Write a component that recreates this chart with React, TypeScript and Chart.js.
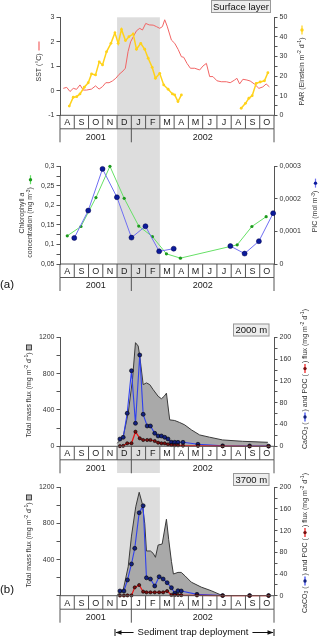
import React, { useEffect, useRef } from 'react';
import { Chart, registerables } from 'chart.js';
Chart.register(...registerables);

// ---------- shared axis categories ----------
const MONTHS = ['A', 'S', 'O', 'N', 'D', 'J', 'F', 'M', 'A', 'M', 'J', 'J', 'A', 'S', 'O'];
const YEARS = ['2001', '2002'];
const YEAR_SPLIT = 5; // month index where 2002 starts
const BAND_START = 4; // December
const BAND_END = 7; // end of February

// ---------- panel 1: surface layer ----------
const sstMonth = [0.23, 0.47, 0.7, 0.93, 1.16, 1.4, 1.63, 1.86, 2.21, 2.49, 2.74, 2.98, 3.21, 3.44, 3.67, 3.91, 4.14, 4.42, 4.58, 4.77, 4.95, 5.13, 5.36, 5.59, 5.78, 6.01, 6.25, 6.53, 6.76, 6.99, 7.18, 7.34, 7.51, 7.81, 8.04, 8.28, 8.51, 8.67, 8.9, 9.14, 9.44, 9.79, 10.02, 10.26, 10.49, 10.72, 11.0, 11.3, 11.66, 11.93, 12.24, 12.4, 12.59, 12.82, 13.1, 13.33, 13.64, 13.94, 14.22, 14.45, 14.68];
const sstValue = [0.1, 0.14, -0.03, 0.1, 0.06, 0.24, 0.03, 0.03, 0.07, 0.2, 0.07, 0.17, 0.33, 0.33, 0.4, 0.51, 0.67, 0.81, 0.92, 1.6, 2.0, 2.2, 2.45, 2.55, 2.48, 2.75, 2.69, 2.68, 2.62, 2.55, 2.62, 2.9, 2.64, 2.07, 1.94, 1.69, 1.39, 1.37, 1.12, 0.92, 0.92, 0.85, 1.01, 1.12, 0.58, 0.58, 0.41, 0.37, 0.37, 0.33, 0.44, 0.51, 0.28, 0.47, 0.44, 0.4, 0.27, 0.1, 0.16, 0.28, 0.16];
const parMonth = [0.65, 0.93, 1.17, 1.4, 1.7, 1.98, 2.21, 2.49, 2.75, 2.98, 3.26, 3.57, 3.85, 4.08, 4.31, 4.59, 4.83, 5.13, 5.36, 5.66, 5.94, 6.18, 6.46, 6.69, 6.99, 7.27, 7.58, 7.88, 8.04, 8.27, 8.51, 10.5, 12.7, 13.0, 13.24, 13.47, 13.75, 14.03, 14.33, 14.57];
const parValue = [4.7, 9.2, 9.5, 10.9, 14.3, 16.6, 21.1, 20.6, 27.3, 25.7, 32.4, 36.7, 42.1, 36.7, 43.8, 38.1, 40.1, 41.5, 33.7, 36.7, 33.7, 29.1, 24.5, 18.9, 21.4, 15.5, 13.3, 10.9, 10.4, 7.0, 10.4, null, 3.6, 6.1, 8.7, 10.0, 16.3, 17.0, 17.6, 21.7];

// ---------- panel 2: chlorophyll a and PIC ----------
const chlMonth = [0.51, 1.47, 2.52, 3.5, 4.5, 5.52, 6.48, 7.46, 8.44, 12.42, 13.45, 14.45];
const chlValue = [0.122, 0.146, 0.22, 0.3, 0.218, 0.147, 0.12, 0.076, 0.065, 0.099, 0.146, 0.171];
const picMonth = [1.0, 1.98, 2.98, 3.99, 5.01, 5.99, 6.95, 7.97, 10.0, 11.94, 12.94, 13.94, 14.94];
const picValue = [0.00008, 0.000164, 0.000292, 0.000205, 0.000081, 0.000116, 0.000039, 0.000047, null, 0.000055, 0.000032, 0.00007, 0.000156];

// ---------- panel 3: 2000 m trap ----------
const mass2000Month = [4.01, 4.43, 4.78, 5.08, 5.29, 5.48, 5.59, 5.83, 6.06, 6.29, 6.53, 6.88, 7.11, 7.3, 7.46, 7.69, 8.04, 8.39, 8.74, 9.21, 9.79, 10.49, 11.4, 12.8, 14.57];
const mass2000Value = [33, 106, 366, 735, 1141, 1104, 993, 679, 698, 679, 624, 550, 524, 550, 585, 291, 284, 262, 236, 181, 125, 100, 70, 55, 44];
const trap2000Month = [4.2, 4.43, 4.71, 5.01, 5.29, 5.59, 5.83, 6.11, 6.34, 6.64, 6.88, 7.11, 7.34, 7.57, 7.81, 8.04, 8.27, 8.62, 9.67, 11.4, 13.29, 14.62];
const caco32000 = [13.4, 16.5, 60.6, 138.7, 42.2, 167.5, 58.7, 37.3, 37.3, 23.9, 18.9, 18.9, 16.5, 13.4, 7.3, 7.3, 7.3, 7.3, 3.7, 0.8, 0.6, 0.3];
const poc2000 = [0.3, 0.8, 5.5, 5.5, 26.8, 14.7, 11.6, 11.6, 11.6, 9.7, 6.6, 5.5, 5.5, 3.7, 2.4, 1.8, 1.8, 1.2, 0.6, 0.2, 0.1, 0.1];

// ---------- panel 4: 3700 m trap ----------
const mass3700Month = [4.01, 4.43, 4.78, 5.01, 5.31, 5.55, 5.76, 5.94, 6.06, 6.34, 6.53, 6.69, 6.88, 7.16, 7.46, 7.62, 7.81, 7.95, 8.27, 8.5, 8.76, 9.2, 9.9, 10.6, 11.4];
const mass3700Value = [8, 63, 321, 660, 985, 1145, 1023, 801, 495, 495, 469, 425, 561, 572, 846, 620, 380, 240, 258, 258, 220, 150, 95, 55, 0];
const trap3700Month = [4.2, 4.48, 4.73, 5.01, 5.24, 5.55, 5.83, 6.06, 6.34, 6.64, 6.95, 7.23, 7.51, 7.81, 8.04, 8.27, 8.5, 9.6, 11.4, 13.29, 14.62];
const caco33700 = [8.7, 8.7, 29, 58.5, 87.4, 153, 166, 33, 30.8, 17.9, 35, 30.8, 24, 14.8, 4.4, 9.2, 8.7, 2.5, 0.3, 0.3, 0.3];
const poc3700 = [0.3, 0.3, 0.5, 0.5, 15.4, 19.7, 7.4, 6.2, 6.2, 6.2, 6.2, 6.2, 8.6, 1.3, 1.3, 1.3, 1, 0.5, 0, 0, 0];

// ---------- layout ----------
const W = 320;
const H = 638;
const FONT = '"Liberation Sans", Arial, Helvetica, sans-serif';
const AXIS = '#555';
const TXT = '#333';

const pts = (xs: number[], ys: (number | null)[]) => xs.map((x, i) => ({ x, y: ys[i] }));

type Seg = { t?: string; sup?: boolean; sub?: boolean; it?: boolean; mk?: 'line' | 'lp' | 'sq'; c?: string; p?: string };

function segW(ctx: CanvasRenderingContext2D, s: Seg, size: number) {
  if (s.mk === 'line') return 11;
  if (s.mk === 'lp') return 11;
  if (s.mk === 'sq') return 6;
  const fs = s.sup || s.sub ? size * 0.72 : size;
  ctx.font = `${s.it ? 'italic ' : ''}${fs}px ${FONT}`;
  return ctx.measureText(s.t || '').width;
}

function drawRich(ctx: CanvasRenderingContext2D, cx: number, cy: number, segs: Seg[], size: number) {
  ctx.save();
  ctx.translate(cx, cy);
  ctx.rotate(-Math.PI / 2);
  let total = 0;
  for (const s of segs) total += segW(ctx, s, size);
  let x = -total / 2;
  ctx.textBaseline = 'middle';
  ctx.textAlign = 'left';
  for (const s of segs) {
    const w = segW(ctx, s, size);
    if (s.mk === 'line' || s.mk === 'lp') {
      ctx.strokeStyle = s.c || '#000';
      ctx.lineWidth = 1.2;
      ctx.beginPath();
      ctx.moveTo(x + 1, 0);
      ctx.lineTo(x + w - 1, 0);
      ctx.stroke();
      if (s.mk === 'lp') {
        ctx.fillStyle = s.p || s.c || '#000';
        ctx.beginPath();
        ctx.arc(x + w / 2, 0, 1.7, 0, Math.PI * 2);
        ctx.fill();
      }
    } else if (s.mk === 'sq') {
      ctx.fillStyle = '#b4b4b4';
      ctx.strokeStyle = '#222';
      ctx.lineWidth = 0.8;
      ctx.fillRect(x + 0.5, -2.5, 5, 5);
      ctx.strokeRect(x + 0.5, -2.5, 5, 5);
    } else {
      ctx.fillStyle = TXT;
      const dy = s.sup ? -size * 0.32 : s.sub ? size * 0.28 : 0;
      ctx.fillText(s.t || '', x, dy);
    }
    x += w;
  }
  ctx.restore();
}

function drawMonthRows(chart: any) {
  const ctx: CanvasRenderingContext2D = chart.ctx;
  const xs = chart.scales.x;
  const a = chart.chartArea;
  const y0 = a.bottom;
  const y1 = y0 + 13.5;
  const y2 = y0 + 27;
  ctx.save();
  ctx.strokeStyle = AXIS;
  ctx.lineWidth = 1;
  ctx.beginPath();
  ctx.moveTo(a.left, y0);
  ctx.lineTo(a.right, y0);
  ctx.moveTo(a.left, y1);
  ctx.lineTo(a.right, y1);
  for (let i = 0; i <= MONTHS.length; i++) {
    const x = xs.getPixelForValue(i);
    ctx.moveTo(x, y0);
    ctx.lineTo(x, y1);
  }
  [0, YEAR_SPLIT, MONTHS.length].forEach((i) => {
    const x = xs.getPixelForValue(i);
    ctx.moveTo(x, y1);
    ctx.lineTo(x, y2);
  });
  ctx.stroke();
  ctx.fillStyle = '#222';
  ctx.font = `9px ${FONT}`;
  ctx.textAlign = 'center';
  ctx.textBaseline = 'middle';
  MONTHS.forEach((m, i) => ctx.fillText(m, xs.getPixelForValue(i + 0.5), y0 + 7.6));
  ctx.fillText(YEARS[0], (xs.getPixelForValue(0) + xs.getPixelForValue(YEAR_SPLIT)) / 2, y0 + 22);
  ctx.fillText(YEARS[1], (xs.getPixelForValue(YEAR_SPLIT) + xs.getPixelForValue(MONTHS.length)) / 2, y0 + 22);
  ctx.restore();
}

function drawBand(chart: any, top: number, bottom: number) {
  const ctx: CanvasRenderingContext2D = chart.ctx;
  const xs = chart.scales.x;
  const x0 = xs.getPixelForValue(BAND_START);
  const x1 = xs.getPixelForValue(BAND_END);
  ctx.save();
  ctx.fillStyle = '#dddddd';
  ctx.fillRect(x0, top, x1 - x0, bottom - top);
  ctx.restore();
}

function labelBox(ctx: CanvasRenderingContext2D, text: string, x0: number, y0: number, x1: number, y1: number) {
  ctx.save();
  ctx.fillStyle = '#ededed';
  ctx.strokeStyle = '#999';
  ctx.lineWidth = 1;
  ctx.fillRect(x0, y0, x1 - x0, y1 - y0);
  ctx.strokeRect(x0 + 0.5, y0 + 0.5, x1 - x0 - 1, y1 - y0 - 1);
  ctx.fillStyle = '#111';
  ctx.font = `9.5px ${FONT}`;
  ctx.textAlign = 'center';
  ctx.textBaseline = 'middle';
  ctx.fillText(text, (x0 + x1) / 2, (y0 + y1) / 2 + 0.5);
  ctx.restore();
}

const isMult = (v: number, m: number) => Math.abs(v / m - Math.round(v / m)) < 1e-6;
const fmt = (v: number) => String(Math.round(v * 100000) / 100000).replace('.', ',');

function yAxis(pos: 'left' | 'right', min: number, max: number, step: number, show: (v: number) => boolean, width: number) {
  return {
    type: 'linear',
    position: pos,
    min,
    max,
    ticks: {
      stepSize: step,
      autoSkip: false,
      padding: 2,
      color: TXT,
      font: { family: FONT, size: 7 },
      callback: (v: number) => (show(v) ? fmt(v) : ''),
    },
    grid: { drawOnChartArea: false, drawTicks: true, tickLength: 3.5, color: AXIS, lineWidth: 1 },
    border: { display: true, color: AXIS, width: 1 },
    afterFit: (s: any) => {
      s.width = width;
    },
  };
}

function baseOptions(top: number, bottom: number, yL: any, yR: any) {
  return {
    responsive: false,
    animation: false,
    devicePixelRatio: 1,
    events: [],
    layout: { padding: { left: 0, right: 0, top, bottom: H - bottom } },
    plugins: { legend: { display: false }, tooltip: { enabled: false } },
    scales: { x: { type: 'linear', min: 0, max: MONTHS.length, display: false }, yL, yR },
  };
}

const RED_SST = '#f26565';
const YELLOW = '#ffd21a';
const GREEN_LINE = '#66e066';
const GREEN_PT = '#1d9a1d';
const BLUE_LINE2 = '#6f6ff2';
const BLUE_PT2 = '#0b1b9b';
const BLUE_LINE = '#2f40ee';
const BLUE_PT = '#14227e';
const RED_LINE = '#ee1515';
const RED_PT = '#7a1010';

function trapDatasets(massM: number[], massV: number[], trapM: number[], caco3: number[], poc: number[]) {
  return [
    {
      data: pts(trapM, poc), yAxisID: 'yR', borderColor: RED_LINE, borderWidth: 1.2,
      pointRadius: 1.6, pointBackgroundColor: RED_PT, pointBorderColor: '#000', pointBorderWidth: 0.6, clip: 6,
    },
    {
      data: pts(trapM, caco3), yAxisID: 'yR', borderColor: BLUE_LINE, borderWidth: 1.1,
      pointRadius: 2, pointBackgroundColor: BLUE_PT, pointBorderColor: '#000', pointBorderWidth: 0.6, clip: 6,
    },
    {
      data: pts(massM, massV), yAxisID: 'yL', borderColor: '#3a3a3a', borderWidth: 1,
      backgroundColor: '#a9a9a9', fill: 'origin', pointRadius: 0,
    },
  ];
}

const totalTitle: Seg[] = [
  { t: 'Total mass flux (mg m' }, { t: '-2', sup: true }, { t: ' d' }, { t: '-1', sup: true }, { t: ') ' }, { mk: 'sq' },
];
const carbTitle: Seg[] = [
  { t: 'CaCO' }, { t: '3', sub: true }, { t: ' (' }, { mk: 'lp', c: BLUE_LINE, p: BLUE_PT }, { t: ') and POC (' },
  { mk: 'lp', c: RED_LINE, p: RED_PT }, { t: ') flux (mg m' }, { t: '-2', sup: true }, { t: ' d' }, { t: '-1', sup: true }, { t: ')' },
];

function build1(canvas: HTMLCanvasElement) {
  const top = 17.3, bottom = 115.3;
  const opts: any = baseOptions(
    top, bottom,
    yAxis('left', -1, 3, 1, () => true, 60),
    yAxis('right', 0, 50, 5, (v) => isMult(v, 10), W - 274),
  );
  return new Chart(canvas, {
    type: 'line',
    data: {
      datasets: [
        {
          data: pts(parMonth, parValue), yAxisID: 'yR', borderColor: YELLOW, borderWidth: 1.5, spanGaps: false,
          pointRadius: 1.4, pointBackgroundColor: YELLOW, pointBorderWidth: 0, clip: 4,
        },
        { data: pts(sstMonth, sstValue), yAxisID: 'yL', borderColor: RED_SST, borderWidth: 1, pointRadius: 0 },
      ],
    } as any,
    options: opts,
    plugins: [
      {
        id: 'p1',
        beforeDatasetsDraw(chart: any) {
          drawBand(chart, top, 473);
        },
        afterDraw(chart: any) {
          const ctx = chart.ctx;
          drawMonthRows(chart);
          labelBox(ctx, 'Surface layer', 211, 0, 271, 13);
          drawRich(ctx, 39, 61, [{ t: 'SST (°C) ' }, { mk: 'line', c: RED_SST }], 7);
          drawRich(ctx, 302, 65, [
            { t: 'PAR (Einstein m' }, { t: '-2', sup: true }, { t: ' d' }, { t: '-1', sup: true }, { t: ') ' },
            { mk: 'lp', c: YELLOW, p: YELLOW },
          ], 7);
        },
      },
    ],
  });
}

function build2(canvas: HTMLCanvasElement) {
  const top = 166.3, bottom = 264;
  const opts: any = baseOptions(
    top, bottom,
    yAxis('left', 0.05, 0.3, 0.025, (v) => isMult(v, 0.05), 60),
    yAxis('right', 0, 0.0003, 0.0001, () => true, W - 274),
  );
  return new Chart(canvas, {
    type: 'line',
    data: {
      datasets: [
        {
          data: pts(picMonth, picValue), yAxisID: 'yR', borderColor: BLUE_LINE2, borderWidth: 1, spanGaps: false,
          pointRadius: 2.5, pointBackgroundColor: BLUE_PT2, pointBorderColor: '#00004a', pointBorderWidth: 0.5, clip: 6,
        },
        {
          data: pts(chlMonth, chlValue), yAxisID: 'yL', borderColor: GREEN_LINE, borderWidth: 1,
          pointRadius: 1.6, pointBackgroundColor: GREEN_PT, pointBorderWidth: 0, clip: 6,
        },
      ],
    } as any,
    options: opts,
    plugins: [
      {
        id: 'p2',
        afterDraw(chart: any) {
          const ctx = chart.ctx;
          drawMonthRows(chart);
          drawRich(ctx, 22.5, 213, [{ t: 'Chlorophyll ' }, { t: 'a', it: true }], 7);
          drawRich(ctx, 30.5, 216, [
            { t: 'concentration (mg m' }, { t: '-3', sup: true }, { t: ') ' }, { mk: 'lp', c: GREEN_LINE, p: GREEN_PT },
          ], 7);
          drawRich(ctx, 315.5, 205, [
            { t: 'PIC (mol m' }, { t: '-3', sup: true }, { t: ') ' }, { mk: 'lp', c: BLUE_LINE2, p: BLUE_PT2 },
          ], 7);
          ctx.save();
          ctx.fillStyle = '#111';
          ctx.font = `11.5px ${FONT}`;
          ctx.textAlign = 'left';
          ctx.textBaseline = 'middle';
          ctx.fillText('(a)', 0, 285);
          ctx.restore();
        },
      },
    ],
  });
}

function build3(canvas: HTMLCanvasElement) {
  const top = 337.3, bottom = 446.3;
  const opts: any = baseOptions(
    top, bottom,
    yAxis('left', 0, 1200, 200, (v) => isMult(v, 400), 60),
    yAxis('right', 0, 200, 20, (v) => isMult(v, 40), W - 274),
  );
  return new Chart(canvas, {
    type: 'line',
    data: { datasets: trapDatasets(mass2000Month, mass2000Value, trap2000Month, caco32000, poc2000) } as any,
    options: opts,
    plugins: [
      {
        id: 'p3',
        afterDraw(chart: any) {
          const ctx = chart.ctx;
          drawMonthRows(chart);
          labelBox(ctx, '2000 m', 233, 323.5, 269.5, 336.5);
          drawRich(ctx, 29, 391, totalTitle, 7);
          drawRich(ctx, 305, 379, carbTitle, 7);
        },
      },
    ],
  });
}

function build4(canvas: HTMLCanvasElement) {
  const top = 487.3, bottom = 595.7;
  const opts: any = baseOptions(
    top, bottom,
    yAxis('left', 0, 1200, 200, (v) => isMult(v, 400) && v > 0, 60),
    yAxis('right', 0, 200, 20, (v) => isMult(v, 40), W - 274),
  );
  return new Chart(canvas, {
    type: 'line',
    data: { datasets: trapDatasets(mass3700Month, mass3700Value, trap3700Month, caco33700, poc3700) } as any,
    options: opts,
    plugins: [
      {
        id: 'p4',
        beforeDatasetsDraw(chart: any) {
          drawBand(chart, top, bottom);
        },
        afterDraw(chart: any) {
          const ctx: CanvasRenderingContext2D = chart.ctx;
          drawMonthRows(chart);
          labelBox(ctx, '3700 m', 233, 473, 269.5, 486);
          drawRich(ctx, 29, 541, totalTitle, 7);
          drawRich(ctx, 305, 543, carbTitle, 7);
          ctx.save();
          ctx.fillStyle = '#111';
          ctx.font = `11.5px ${FONT}`;
          ctx.textAlign = 'left';
          ctx.textBaseline = 'middle';
          ctx.fillText('(b)', 0, 590);
          // sediment trap deployment arrow
          const xs = chart.scales.x;
          const xa = 115;
          const xb = xs.getPixelForValue(MONTHS.length);
          const y = 632.5;
          ctx.font = `9.5px ${FONT}`;
          ctx.textAlign = 'center';
          const label = 'Sediment trap deployment';
          const cx = 193;
          ctx.fillText(label, cx, y);
          const tw = ctx.measureText(label).width;
          ctx.strokeStyle = '#111';
          ctx.lineWidth = 1;
          ctx.beginPath();
          ctx.moveTo(xa, y - 3.5); ctx.lineTo(xa, y + 3.5);
          ctx.moveTo(xa + 1, y); ctx.lineTo(cx - tw / 2 - 4, y);
          ctx.moveTo(cx + tw / 2 + 4, y); ctx.lineTo(xb - 1, y);
          ctx.moveTo(xb, y - 3.5); ctx.lineTo(xb, y + 3.5);
          ctx.stroke();
          ctx.beginPath();
          ctx.moveTo(xa + 0.5, y); ctx.lineTo(xa + 6.5, y - 2.2); ctx.lineTo(xa + 6.5, y + 2.2); ctx.closePath();
          ctx.moveTo(xb - 0.5, y); ctx.lineTo(xb - 6.5, y - 2.2); ctx.lineTo(xb - 6.5, y + 2.2); ctx.closePath();
          ctx.fillStyle = '#111';
          ctx.fill();
          ctx.restore();
        },
      },
    ],
  });
}

export default function App() {
  const r1 = useRef<HTMLCanvasElement>(null);
  const r2 = useRef<HTMLCanvasElement>(null);
  const r3 = useRef<HTMLCanvasElement>(null);
  const r4 = useRef<HTMLCanvasElement>(null);
  useEffect(() => {
    const charts = [build1(r1.current!), build2(r2.current!), build3(r3.current!), build4(r4.current!)];
    return () => charts.forEach((c) => c.destroy());
  }, []);
  const st: React.CSSProperties = { position: 'absolute', left: 0, top: 0, width: W, height: H };
  return (
    <div style={{ position: 'fixed', left: 0, top: 0, width: W, height: H, background: '#fff', overflow: 'hidden' }}>
      <canvas ref={r1} width={W} height={H} style={st} />
      <canvas ref={r2} width={W} height={H} style={st} />
      <canvas ref={r3} width={W} height={H} style={st} />
      <canvas ref={r4} width={W} height={H} style={st} />
    </div>
  );
}
